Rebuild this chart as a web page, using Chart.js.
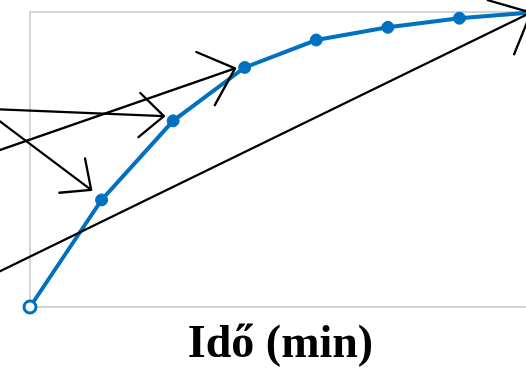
<!DOCTYPE html>
<html>
<head>
<meta charset="utf-8">
<script src="https://cdn.jsdelivr.net/npm/chart.js@4"></script>
<style>
  html, body { margin: 0; padding: 0; overflow: hidden; background: #fff; }
</style>
</head>
<body>
<canvas id="grafico" width="540" height="368"></canvas>
<script>
// measured points (x = time step, y = relative value 0..100)
const idoPontok = [0, 1, 2, 3, 4, 5, 6, 7];
const ertekek = [0, 36.3, 63.1, 81.2, 90.5, 94.8, 97.9, 99.8];

// arrows: start and tip in data units (start lies left of the plot)
const nyilA_x = [-0.6, 7];
const nyilA_y = [10, 99.8];
const nyilB_x = [-0.6, 2.865];
const nyilB_y = [51.7, 80.9];
const nyilC_x = [-0.6, 1.871];
const nyilC_y = [67.2, 64.7];
const nyilD_x = [-0.6, 0.855];
const nyilD_y = [66.2, 39.7];

const kek = '#0070C0';

function pontok(xs, ys) {
  return xs.map((x, i) => ({ x: x, y: ys[i] }));
}

function nyil(xs, ys, meret) {
  return {
    data: pontok(xs, ys),
    borderColor: '#000',
    borderWidth: 2.3,
    pointRadius: 0,
    clip: false,
    order: 1,
    nyilMeret: meret
  };
}

// gray box round the plot area
const keret = {
  id: 'keret',
  beforeDatasetsDraw(chart) {
    const { ctx, chartArea: a } = chart;
    ctx.save();
    ctx.strokeStyle = '#c6c6c6';
    ctx.lineWidth = 1.5;
    ctx.strokeRect(a.left, a.top, a.right - a.left, a.bottom - a.top);
    ctx.restore();
  }
};

// open arrow heads at the last point of the arrow datasets
const nyilhegy = {
  id: 'nyilhegy',
  afterDatasetsDraw(chart) {
    const ctx = chart.ctx;
    const szog = 42 * Math.PI / 180;
    chart.data.datasets.forEach((ds, i) => {
      if (!ds.nyilMeret) return;
      const pts = chart.getDatasetMeta(i).data;
      const a = pts[pts.length - 2], b = pts[pts.length - 1];
      const ang = Math.atan2(b.y - a.y, b.x - a.x);
      const L = ds.nyilMeret;
      ctx.save();
      ctx.strokeStyle = ds.borderColor;
      ctx.lineWidth = ds.borderWidth;
      ctx.lineCap = 'round';
      ctx.lineJoin = 'round';
      ctx.beginPath();
      ctx.moveTo(b.x - L * Math.cos(ang - szog), b.y - L * Math.sin(ang - szog));
      ctx.lineTo(b.x, b.y);
      ctx.lineTo(b.x - L * Math.cos(ang + szog), b.y - L * Math.sin(ang + szog));
      ctx.stroke();
      ctx.restore();
    });
  }
};

new Chart(document.getElementById('grafico').getContext('2d'), {
  type: 'line',
  data: {
    datasets: [
      nyil(nyilA_x, nyilA_y, 45),
      nyil(nyilB_x, nyilB_y, 42),
      nyil(nyilC_x, nyilC_y, 33),
      nyil(nyilD_x, nyilD_y, 32),
      {
        data: pontok(idoPontok, ertekek),
        borderColor: kek,
        borderWidth: 4,
        pointRadius: 6,
        pointBackgroundColor: idoPontok.map((x, i) => i === 0 ? '#fff' : kek),
        pointBorderColor: kek,
        pointBorderWidth: idoPontok.map((x, i) => i === 0 ? 3 : 1),
        clip: false,
        order: 2
      }
    ]
  },
  options: {
    responsive: false,
    animation: false,
    layout: { padding: { left: 30, top: 12, right: 5, bottom: 0 } },
    plugins: { legend: { display: false }, tooltip: { enabled: false } },
    scales: {
      x: {
        type: 'linear',
        min: 0,
        max: 7,
        grid: { display: false },
        border: { display: false },
        ticks: { display: false },
        title: {
          display: true,
          text: 'Idő (min)',
          color: '#000',
          padding: 0,
          font: { family: 'Liberation Serif', weight: 'bold', size: 46, lineHeight: 1 }
        },
        afterFit(scale) { scale.height = 61; }
      },
      y: {
        type: 'linear',
        min: 0,
        max: 100,
        display: false
      }
    }
  },
  plugins: [keret, nyilhegy]
});
</script>
</body>
</html>
